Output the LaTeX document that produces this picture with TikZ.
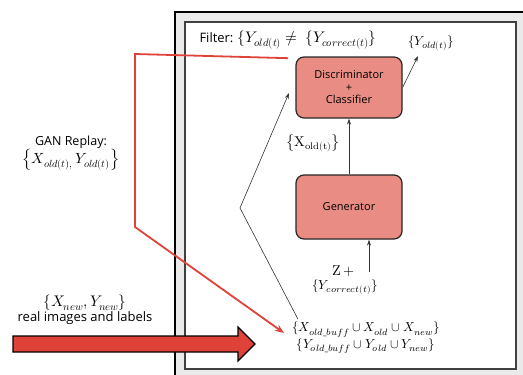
\documentclass[tikz,border=0pt]{standalone}
\usepackage{amsmath}
\usepackage{unicode-math}
\setmainfont{Open Sans}
\setmathfont{Latin Modern Math}[Scale=1.18]
\usetikzlibrary{positioning,arrows.meta}
\definecolor{boxred}{HTML}{E98C84}
\definecolor{linered}{HTML}{DF4239}
\definecolor{framegray}{HTML}{EAEAEA}

\begin{document}
\begin{tikzpicture}[
    x=1pt, y=-1pt,
    every node/.style={font=\fontsize{12}{14}\selectfont},
    net/.style={draw=black!85, line width=1.2pt, rounded corners=8pt, fill=boxred, minimum width=106pt, minimum height=61pt, align=center, font=\fontsize{11}{13.5}\selectfont},
    txt/.style={align=center, inner sep=1pt},
    arr/.style={-{Stealth[length=6pt,width=4pt]}, line width=0.6pt, black!80},
    redarr/.style={-{Stealth[length=9pt,width=7pt]}, line width=1.8pt, linered}
]
\useasboundingbox (0,0) rectangle (523,375);
\clip (0,0) rectangle (523,375);

% frame
\draw[line width=1.2pt, fill=framegray] (175,12) rectangle (535,390);
\draw[line width=1.3pt, black!75, fill=white] (185,22) rectangle (516,369);

% networks
\node[net] (disc) at (349,87.5) {Discriminator\\[-1pt]+\\[-1pt]Classifier};
\node[net, minimum height=64pt] (gen) at (349,207) {Generator};

% labels
\node[txt, font=\fontsize{13}{15}\selectfont] (filter) at (288,40) {Filter: $\{Y_{old(t)} \neq \ \{Y_{correct(t)}\}$};
\node[txt, font=\fontsize{11}{13}\selectfont] (yold) at (431,43) {$\{Y_{old(t)}\}$};
\node[txt] (xold) at (313,143) {$\left\{\symup{X}_{\symup{old(t)}}\right\}$};
\node[txt] (z) at (345,271) {$\symup{Z} +{}$};
\node[txt, font=\fontsize{11}{13}\selectfont, below=1pt of z] (ycorr) {$\{Y_{correct(t)}\}$};
\node[txt, font=\fontsize{11}{12.5}\selectfont] (sets) at (366,338) {$\{X_{old\_buff} \cup X_{old} \cup X_{new}\}$\\[1pt]$\{Y_{old\_buff} \cup Y_{old} \cup Y_{new}\}$};
\node[txt, font=\fontsize{12.5}{15}\selectfont] (replay) at (71,153) {GAN Replay:\\$\left\{X_{old(t),}\, Y_{old(t)}\right\}$};
\node[txt, font=\fontsize{13}{15.5}\selectfont] (real) at (85,310) {$\{X_{new}, Y_{new}\}$\\real images and labels};

% helper points
\coordinate (zin) at (369,272);
\coordinate (yoldin) at (418,56);
\coordinate (discin) at (289,93);
\coordinate (bend) at (240,208);
\coordinate (rtop) at (135,54);
\coordinate (rbend) at (135,227);
\coordinate (rtip) at (284,333);
\coordinate (newtail) at (13,344);
\coordinate (newtip) at (255,344);

% connectors
\draw[arr] (gen) -- (disc);
\draw[arr] (zin) -- (zin |- gen.south);
\draw[arr] (disc.east) -- (yoldin);
\draw[arr] ([xshift=7pt,yshift=2pt]sets.north west) -- (bend) -- (discin);
\draw[redarr] ([yshift=-8pt]filter.south) -- (rtop) -- (rbend) -- (rtip);

% incoming data
\draw[line width=1.2pt, fill=linered] (newtail) ++(0,-8) -- ++(225,0) -- ++(0,-9)
    -- (newtip) -- ++(-17,17) -- ++(0,-9) -- ++(-225,0) -- cycle;
\end{tikzpicture}
\end{document}
